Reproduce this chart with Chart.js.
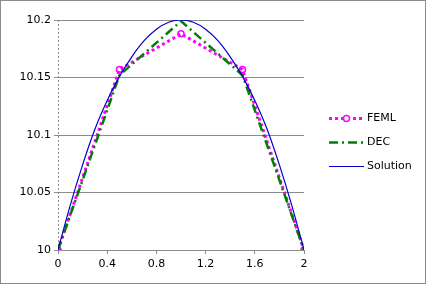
<!DOCTYPE html>
<html lang="en">
<head>
    <meta charset="UTF-8">
    <title>FEML / DEC / Solution</title>
    <script src="https://cdn.jsdelivr.net/npm/chart.js@4.4.1/dist/chart.umd.min.js"></script>
    <style>
        html, body { margin: 0; padding: 0; background: #fff; }
        #wrap { width: 426px; height: 284px; }
    </style>
</head>
<body>
<div id="wrap"><canvas id="theChart" width="426" height="284"></canvas></div>
<script>
    // data
    var nodeX   = [0, 0.5, 1, 1.5, 2];
    var femlY   = [10, 10.157, 10.188, 10.157, 10];
    var decY    = [10, 10.152, 10.199, 10.152, 10];
    var solX    = [0, 0.1, 0.2, 0.3, 0.4, 0.5, 0.6, 0.7, 0.8, 0.9, 1.0,
                   1.1, 1.2, 1.3, 1.4, 1.5, 1.6, 1.7, 1.8, 1.9, 2.0];
    var solY    = [10, 10.039, 10.074, 10.105, 10.130, 10.151, 10.168, 10.182, 10.192, 10.198, 10.200,
                   10.198, 10.192, 10.182, 10.168, 10.151, 10.130, 10.105, 10.074, 10.039, 10];
    var xTicks  = [0, 0.4, 0.8, 1.2, 1.6, 2];
    var yTicks  = [10, 10.05, 10.1, 10.15, 10.2];
    var seriesNames = ["FEML", "DEC", "Solution"];

    function pairs(xs, ys) {
        return xs.map(function (x, i) { return { x: x, y: ys[i] }; });
    }

    var FONT = "DejaVu Sans";
    var GRID = "#8c8c8c";

    // dotted value axis line, drawn under the series
    var dottedAxis = {
        id: "dottedAxis",
        beforeDatasetsDraw: function (chart) {
            var ctx = chart.ctx, a = chart.chartArea;
            var x = Math.round(a.left) + 0.5;
            ctx.save();
            ctx.strokeStyle = GRID;
            ctx.lineWidth = 1;
            ctx.setLineDash([2, 2]);
            ctx.beginPath();
            ctx.moveTo(x, a.top);
            ctx.lineTo(x, a.bottom);
            ctx.stroke();
            ctx.restore();
        }
    };

    // legend + outer frame drawn on the canvas
    var sideLegend = {
        id: "sideLegend",
        afterDraw: function (chart) {
            var ctx = chart.ctx;
            ctx.save();
            ctx.strokeStyle = GRID;
            ctx.lineWidth = 1;
            ctx.strokeRect(0.5, 0.5, chart.width - 1, chart.height - 1);
            var rows = [118, 142, 166];
            chart.data.datasets.forEach(function (ds, i) {
                var y = rows[i] + 0.5;
                ctx.strokeStyle = ds.borderColor;
                ctx.lineWidth = ds.borderWidth;
                ctx.setLineDash(ds.borderDash || []);
                ctx.beginPath();
                ctx.moveTo(329, y);
                ctx.lineTo(364, y);
                ctx.stroke();
                ctx.setLineDash([]);
                if (ds.legendMarker) {
                    ctx.lineWidth = 1.5;
                    ctx.fillStyle = "#fff";
                    ctx.beginPath();
                    ctx.arc(346.5, y, 3, 0, Math.PI * 2);
                    ctx.fill();
                    ctx.stroke();
                }
                ctx.fillStyle = "#000";
                ctx.font = "11px '" + FONT + "'";
                ctx.textBaseline = "middle";
                ctx.textAlign = "left";
                ctx.fillText(seriesNames[i], 367, y);
            });
            ctx.restore();
        }
    };

    var theChart = new Chart("theChart", {
        type: "scatter",
        data: {
            datasets: [{
                label: seriesNames[0],
                data: pairs(nodeX, femlY),
                showLine: true,
                borderColor: "#ff00ff",
                backgroundColor: "#ffffff",
                borderWidth: 3,
                borderDash: [3, 3],
                pointRadius: 3,
                pointBorderWidth: 1.5,
                pointBorderColor: "#ff00ff",
                pointBackgroundColor: "rgba(255,255,255,0)",
                legendMarker: true,
                order: 2
            }, {
                label: seriesNames[1],
                data: pairs(nodeX, decY),
                showLine: true,
                borderColor: "#008000",
                borderWidth: 2.5,
                borderDash: [9, 4, 2, 4],
                pointRadius: 0,
                order: 1
            }, {
                label: seriesNames[2],
                data: pairs(solX, solY),
                showLine: true,
                borderColor: "#0000cc",
                borderWidth: 1.2,
                cubicInterpolationMode: "monotone",
                pointRadius: 0,
                order: 0
            }]
        },
        options: {
            responsive: false,
            animation: false,
            layout: { padding: { left: 0, right: 122, top: 20, bottom: 0 } },
            plugins: {
                legend: { display: false },
                tooltip: { enabled: false }
            },
            scales: {
                x: {
                    type: "linear",
                    min: 0, max: 2,
                    afterBuildTicks: function (s) { s.ticks = xTicks.map(function (v) { return { value: v }; }); },
                    afterFit: function (s) { s.height = 34; },
                    grid: { drawOnChartArea: false, drawTicks: true, tickLength: 4, color: GRID },
                    border: { color: GRID, width: 1 },
                    ticks: {
                        color: "#000", padding: 4,
                        font: { family: FONT, size: 11 },
                        maxRotation: 0,
                        callback: function (v) { return String(v); }
                    }
                },
                y: {
                    type: "linear",
                    min: 10, max: 10.2,
                    afterBuildTicks: function (s) { s.ticks = yTicks.map(function (v) { return { value: v }; }); },
                    afterFit: function (s) { s.width = 58; },
                    grid: { drawOnChartArea: true, drawTicks: true, tickLength: 4, color: GRID },
                    border: { display: false },
                    ticks: {
                        color: "#000", padding: 3,
                        font: { family: FONT, size: 11 },
                        callback: function (v) { return String(v); }
                    }
                }
            }
        },
        plugins: [dottedAxis, sideLegend]
    });
</script>
</body>
</html>
